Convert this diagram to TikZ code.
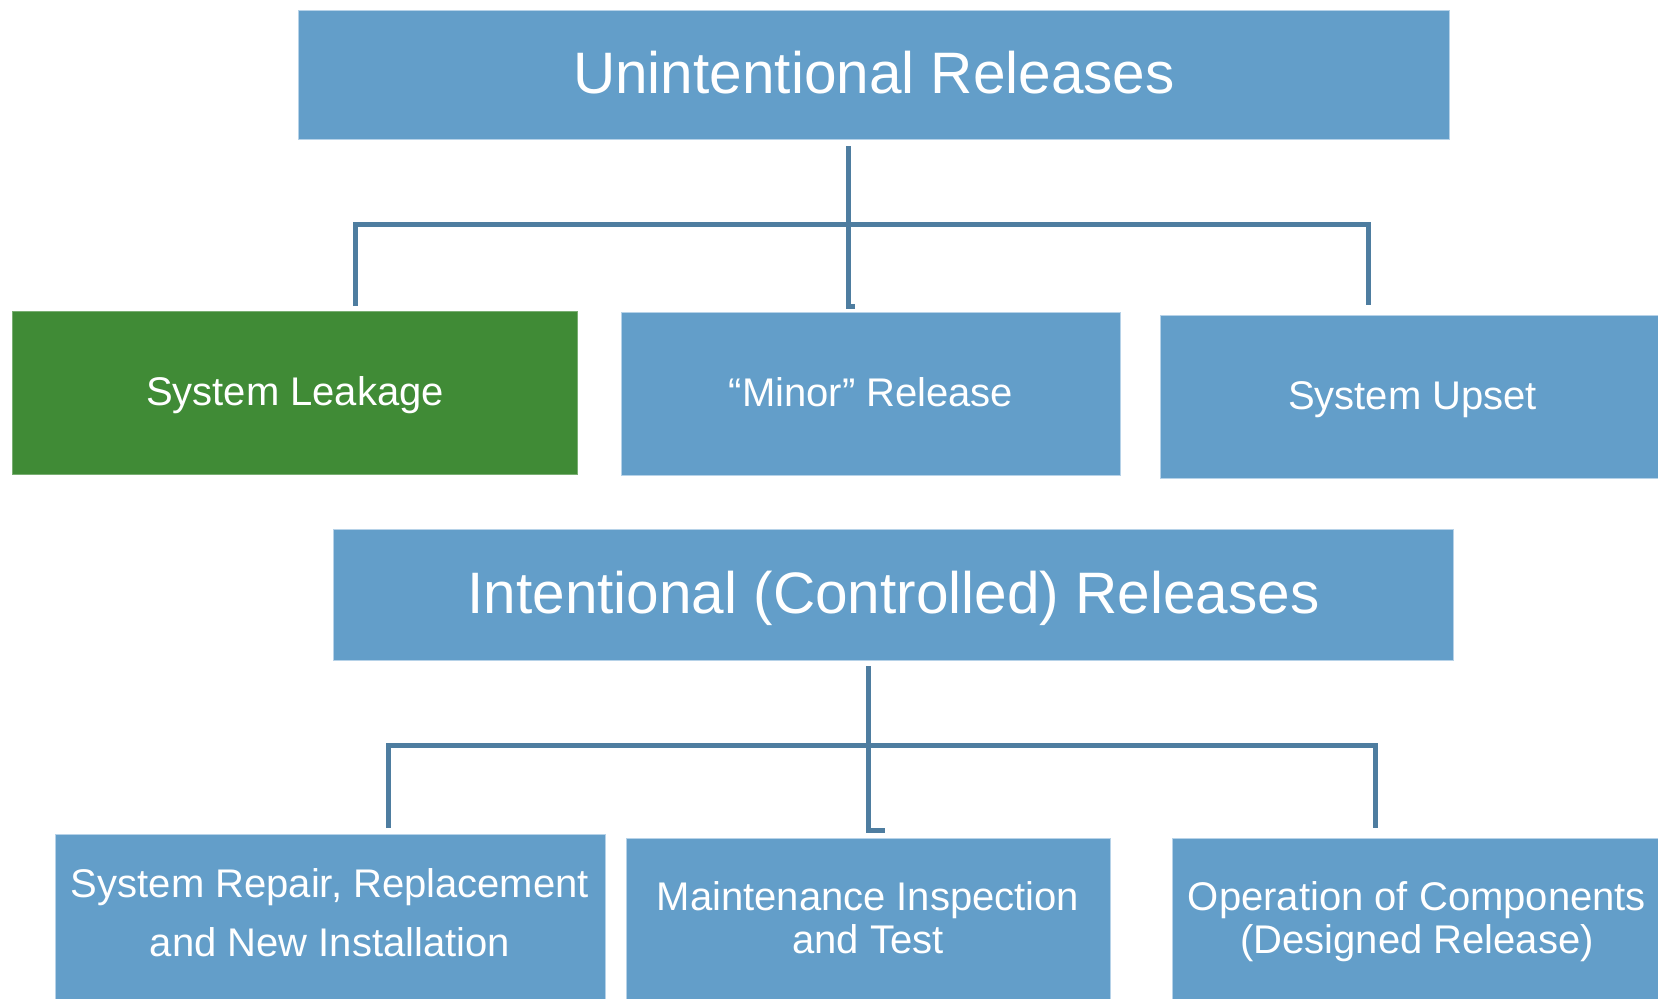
\documentclass[tikz,border=0pt]{standalone}
\usepackage{fontspec}
\setmainfont{Liberation Sans}
\definecolor{boxblue}{RGB}{99,158,201}
\definecolor{boxgreen}{RGB}{64,139,54}
\definecolor{linkblue}{RGB}{78,125,160}
\definecolor{edgeblue}{RGB}{182,210,232}
\begin{document}
\begin{tikzpicture}[x=1pt,y=-1pt,
  box/.style={fill=boxblue, draw=edgeblue, line width=1pt, anchor=north west,
    inner sep=0pt, text=white, align=center},
  greenbox/.style={box, fill=boxgreen, draw=boxgreen!70!white},
  titlefont/.style={font=\fontsize{58.5}{70}\selectfont, text height=42pt, text depth=6pt},
  bodyfont/.style={font=\fontsize{40}{48}\selectfont, text height=29pt, text depth=4pt},
  lbl/.style={text=white, align=center, inner sep=0pt},
  conn/.style={draw=linkblue, line width=5pt, line join=miter}]
\useasboundingbox (0,0) rectangle (1658,999);

% upper tree
\node[box, titlefont, minimum width=1151pt, minimum height=129pt] (U) at (298,10) {Unintentional Releases};
\node[greenbox, bodyfont, minimum width=565pt, minimum height=163pt] (leak) at (12,311) {System Leakage};
\node[box, bodyfont, minimum width=499pt, minimum height=163pt] (minor) at (621,312) {“Minor” Release};
\node[box, bodyfont, minimum width=504pt, minimum height=163pt] (upset) at (1160,315) {System Upset};

% lower tree
\node[box, titlefont, minimum width=1120pt, minimum height=131pt] (I) at (333,529) {Intentional (Controlled) Releases};
\node[box, minimum width=550pt, minimum height=180pt] (repair) at (55,834) {};
\node[box, minimum width=484pt, minimum height=180pt] (maint) at (626,838) {};
\node[box, minimum width=490pt, minimum height=180pt] (oper) at (1172,838) {};
\node[lbl, font=\fontsize{40}{59}\selectfont] (repairT) at (330,913) {System Repair, Replacement\\and New Installation};
\node[lbl, font=\fontsize{40}{43}\selectfont] (maintT) at (868,918) {Maintenance Inspection\\and Test};
\node[lbl, font=\fontsize{40}{43}\selectfont] (operT) at (1417,922) {Operation of Components\\(Designed Release)};

% connectors
\coordinate (busU) at (848,224);
\draw[conn] ([xshift=-25.5pt,yshift=-6pt]U.south) -- ([xshift=-22.5pt,yshift=6pt]minor.north) -- ++(6,0);
\draw[conn] ([xshift=60.5pt,yshift=5pt]leak.north) |- (busU) -| ([xshift=-44pt,yshift=10pt]upset.north);

\coordinate (busI) at (868,745.5);
\draw[conn] ([xshift=-25pt,yshift=-5pt]I.south) -- ([yshift=8pt]maint.north) -- ++(16,0);
\draw[conn] ([xshift=58pt,yshift=6pt]repair.north) |- (busI) -| ([xshift=-42pt,yshift=10pt]oper.north);
\end{tikzpicture}
\end{document}
